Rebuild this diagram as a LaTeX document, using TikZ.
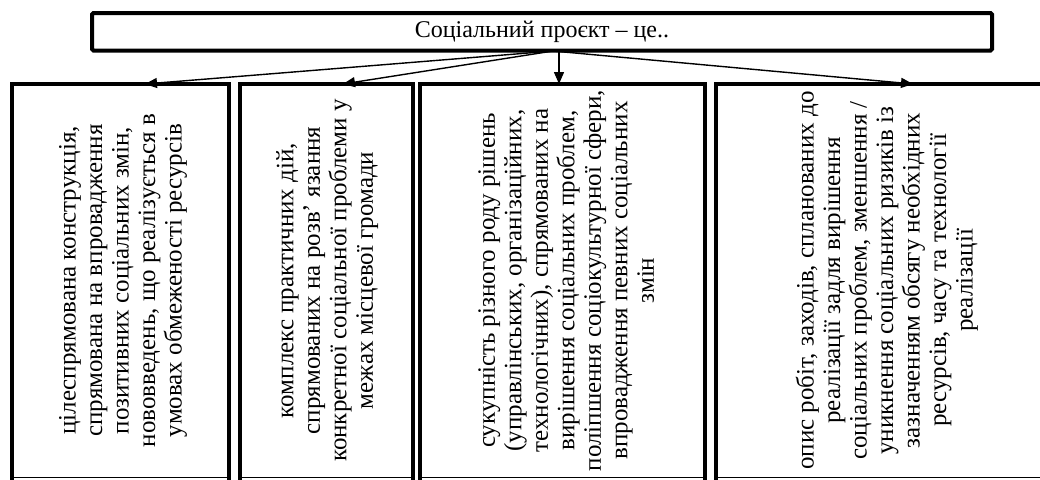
\documentclass[tikz,border=0pt]{standalone}
\usepackage{fontspec}
\setmainfont{Liberation Serif}
\usetikzlibrary{arrows.meta}
\begin{document}
\begin{tikzpicture}[x=1pt,y=-1pt,
  frame/.style={line width=4pt, line join=miter},
  thinline/.style={line width=1pt},
  arr/.style={line width=1.4pt, -{Triangle[length=12pt,width=10pt]}},
  btext/.style={rotate=90, align=center, font=\fontsize{25}{26.5}\selectfont, inner sep=0pt},
  slot/.style={minimum width=#1, minimum height=393pt, inner sep=0pt, outer sep=0pt, anchor=north west},
  topbox/.style={draw, line width=4pt, rounded corners=1.5pt, minimum width=900pt, minimum height=37.5pt, inner sep=0pt, outer sep=0pt, anchor=north west, font=\fontsize{24}{28}\selectfont},
]
\useasboundingbox (0,0) rectangle (1040,479);
\fill[white] (0,0) rectangle (1040,479);

\node[topbox] (top) at (92,13) {Соціальний проєкт – це..};

\node[slot=217pt] (b1) at (11.5,84) {};
\node[slot=172.5pt] (b2) at (240,84) {};
\node[slot=284.5pt] (b3) at (420,84) {};
\node[slot=342.5pt] (b4) at (715.5,84) {};

\foreach \b in {b1,b2,b3,b4}{
  \draw[frame] ([yshift=-12pt]\b.south west) -- (\b.north west) -- (\b.north east) -- ([yshift=-12pt]\b.south east);
  \draw[thinline] (\b.south west) -- (\b.south east);
}

\node[btext] (t1) at ([xshift=3pt]b1.center) {цілеспрямована конструкція,\\спрямована на впровадження\\позитивних соціальних змін,\\нововведень, що реалізується в\\умовах обмеженості ресурсів};
\node[btext] (t2) at ([xshift=1pt]b2.center) {комплекс практичних дій,\\спрямованих на розв’ язання\\конкретної соціальної проблеми у\\межах місцевої громади};
\node[btext] (t3) at ([xshift=4pt]b3.center) {сукупність різного роду рішень\\(управлінських, організаційних,\\технологічних), спрямованих на\\вирішення соціальних проблем,\\поліпшення соціокультурної сфери,\\впровадження певних соціальних\\змін};
\node[btext] (t4) at (b4.center) {опис робіт, заходів, спланованих до\\реалізації задля вирішення\\соціальних проблем, зменшення /\\уникнення соціальних ризиків із\\зазначенням обсягу необхідних\\ресурсів, часу та технології\\реалізації};

\coordinate (src) at (553,51);
\draw[arr] (src) -- (b1.north -| 145,0);
\draw[arr] (src) -- (b2.north -| 343,0);
\draw[arr] (top.south -| 559,0) -- (b3.north -| 559,0);
\draw[arr] (src) -- (b4.north -| 913,0);
\end{tikzpicture}
\end{document}
